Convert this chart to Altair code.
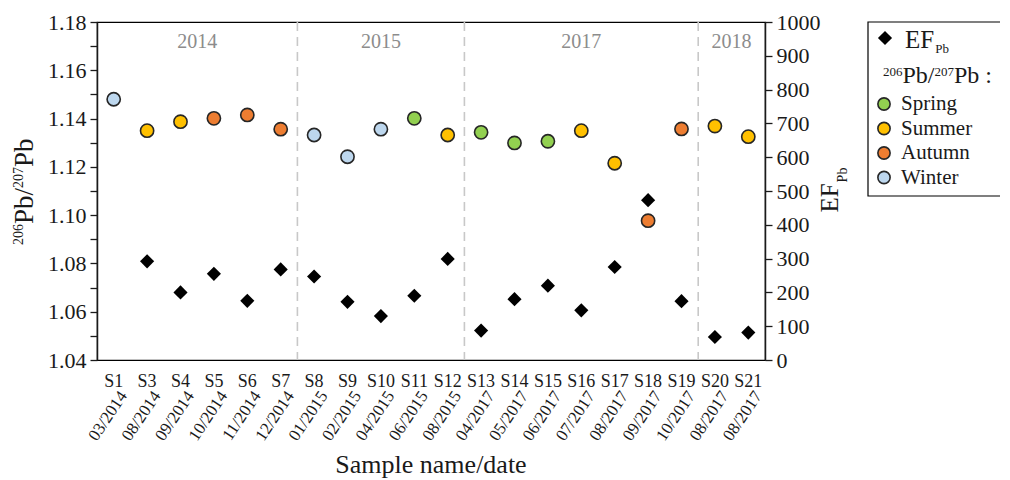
import altair as alt
import pandas as pd

# ---------------- data ----------------
samples = ["S1", "S3", "S4", "S5", "S6", "S7", "S8", "S9", "S10", "S11", "S12",
           "S13", "S14", "S15", "S16", "S17", "S18", "S19", "S20", "S21"]
dates = ["03/2014", "08/2014", "09/2014", "10/2014", "11/2014", "12/2014",
         "01/2015", "02/2015", "04/2015", "06/2015", "08/2015",
         "04/2017", "05/2017", "06/2017", "07/2017", "08/2017", "09/2017", "10/2017",
         "08/2017", "08/2017"]
ratio = [1.148, 1.135, 1.1387, 1.1401, 1.1415, 1.1356, 1.1332, 1.1242, 1.1356, 1.1401, 1.1332,
         1.1343, 1.1299, 1.1306, 1.135, 1.1215, 1.0977, 1.1357, 1.1369, 1.1325]
ef = [None, 292, 200, 255, 175, 268, 247, 172, 130, 190, 299,
      87, 180, 220, 147, 275, 473, 174, 68, 81]
seasons = ["Winter", "Summer", "Summer", "Autumn", "Autumn", "Autumn", "Winter", "Winter", "Winter",
           "Spring", "Summer", "Spring", "Spring", "Spring", "Summer", "Summer", "Autumn", "Autumn",
           "Summer", "Summer"]

season_names = ["Spring", "Summer", "Autumn", "Winter"]
season_colors = ["#92d050", "#ffc000", "#ed7d31", "#bdd7ee"]

years = ["2014", "2015", "2017", "2018"]
year_start = [0, 6, 11, 18]
year_end = [6, 11, 18, 20]

# ---------------- layout ----------------
W, H = 668, 338
FONT = "'Liberation Serif', 'Times New Roman', Times, 'DejaVu Serif', serif"
INK = "#1a1a1a"

df = pd.DataFrame({"sample": samples, "date": dates, "ratio": ratio, "ef": ef, "season": seasons})
df["xpos"] = df.index + 0.5

xscale = alt.Scale(domain=[0, 20], nice=False, zero=False)
cscale = alt.Scale(domain=season_names, range=season_colors)

yvals = [round(1.04 + 0.01 * i, 2) for i in range(15)]

circles = alt.Chart(df).mark_point(
    shape="circle", filled=True, size=175, stroke="#262626", strokeWidth=1.6, opacity=1
).encode(
    x=alt.X("xpos:Q", scale=xscale,
            axis=alt.Axis(values=list(range(21)), labels=False, title=None, tickSize=7,
                          orient="bottom", grid=False)),
    y=alt.Y("ratio:Q", scale=alt.Scale(domain=[1.04, 1.18], nice=False, zero=False),
            axis=alt.Axis(orient="left", values=yvals, title=None, tickSize=7, labelPadding=4,
                          labelExpr="(round(datum.value*100) % 2 == 0) ? format(datum.value, '.2f') : ''")),
    fill=alt.Fill("season:N", scale=cscale, legend=None),
)

diamonds = alt.Chart(df).transform_filter("isValid(datum.ef)").mark_point(
    shape="diamond", filled=True, size=200, color="#000000", opacity=1
).encode(
    x=alt.X("xpos:Q", scale=xscale, axis=None),
    y=alt.Y("ef:Q", scale=alt.Scale(domain=[0, 1000], nice=False, zero=False),
            axis=alt.Axis(orient="right", values=list(range(0, 1001, 100)), title=None,
                          tickSize=7, labelPadding=4, format="d")),
)

bdf = pd.DataFrame({"xb": year_start[1:]})
rules = alt.Chart(bdf).mark_rule(color="#c8c8c8", strokeDash=[9, 6], strokeWidth=1.6).encode(
    x=alt.X("xb:Q", scale=xscale, axis=None),
    y=alt.value(0), y2=alt.value(H),
)

ydf = pd.DataFrame({"year": years, "s": year_start, "e": year_end})
ydf["xc"] = (ydf["s"] + ydf["e"]) / 2
year_text = alt.Chart(ydf).mark_text(font=FONT, fontSize=20, color="#8c8c8c", baseline="middle").encode(
    x=alt.X("xc:Q", scale=xscale, axis=None), y=alt.value(20), text="year:N"
)

s_text = alt.Chart(df).mark_text(font=FONT, fontSize=18, color=INK, baseline="middle").encode(
    x=alt.X("xpos:Q", scale=xscale, axis=None), y=alt.value(H + 22), text="sample:N"
)
d_text = alt.Chart(df).mark_text(font=FONT, fontSize=17, color=INK, angle=304, align="right",
                                 baseline="middle", xOffset=10).encode(
    x=alt.X("xpos:Q", scale=xscale, axis=None), y=alt.value(H + 33), text="date:N"
)


def label(txt, x, y, size, angle=0, align="center", baseline="middle", color=INK):
    kw = dict(font=FONT, fontSize=size, color=color, align=align, baseline=baseline, text=txt)
    if angle:
        kw["angle"] = angle
    return alt.Chart(pd.DataFrame({"a": [0]})).mark_text(**kw).encode(x=alt.value(x), y=alt.value(y))


# Times-metric advance widths (em) for composing super/subscripts
ADV = {"0": .5, "2": .5, "6": .5, "7": .5, "P": .556, "b": .5, "/": .278, " ": .25, ":": .278,
       "E": .611, "F": .556}


def adv(txt, size):
    return sum(ADV.get(c, .5) for c in txt) * size


def ratio_label(x0, base, big, small, raise_, vertical=False, tail="Pb"):
    """Compose 206Pb/207Pb with real superscripts, piece by piece."""
    parts = [("206", small, True), ("Pb/", big, False), ("207", small, True), (tail, big, False)]
    layers, pos = [], x0
    for txt, size, sup in parts:
        if vertical:
            layers.append(label(txt, base - (raise_ if sup else 0), pos, size, angle=270,
                                align="left", baseline="alphabetic"))
            pos -= adv(txt, size)
        else:
            layers.append(label(txt, pos, base - (raise_ if sup else 0), size,
                                align="left", baseline="alphabetic"))
            pos += adv(txt, size)
    return layers


x_title = label("Sample name/date", W / 2, 451, 26, baseline="alphabetic")
yl_title = ratio_label(223, -64, 27, 14, 10, vertical=True)
yr_title = label("EF", 733, 176, 25, angle=270)
yr_sub = label("Pb", 746, 153, 14, angle=270)

# ---------------- legend ----------------
LX0, LY0 = 771, 0
legend_box = alt.Chart(pd.DataFrame({"a": [0]})).mark_rect(
    fill="white", stroke="#000000", strokeWidth=1.2
).encode(x=alt.value(LX0), x2=alt.value(905), y=alt.value(LY0), y2=alt.value(174))

leg_diamond = alt.Chart(pd.DataFrame({"a": [0]})).mark_point(
    shape="diamond", filled=True, size=200, color="#000000", opacity=1
).encode(x=alt.value(LX0 + 17), y=alt.value(16))
leg_ef = label("EF", LX0 + 37, 26, 25, align="left", baseline="alphabetic")
leg_ef_sub = label("Pb", LX0 + 37 + adv("EF", 25) + 1, 31, 13, align="left", baseline="alphabetic")
leg_head = ratio_label(LX0 + 15, 61, 24, 13, 7, tail="Pb :")

ldf = pd.DataFrame({"season": season_names})
ldf["ly"] = [82 + 24.5 * i for i in range(len(season_names))]
leg_pts = alt.Chart(ldf).mark_point(
    shape="circle", filled=True, size=150, stroke="#262626", strokeWidth=1.6, opacity=1
).encode(
    x=alt.value(LX0 + 16),
    y=alt.Y("ly:Q", scale=alt.Scale(domain=[0, H], range=[0, H], nice=False, zero=False), axis=None),
    fill=alt.Fill("season:N", scale=cscale, legend=None),
)
leg_txt = alt.Chart(ldf).mark_text(font=FONT, fontSize=21, color=INK, align="left", baseline="middle").encode(
    x=alt.value(LX0 + 33),
    y=alt.Y("ly:Q", scale=alt.Scale(domain=[0, H], range=[0, H], nice=False, zero=False), axis=None),
    text="season:N",
)

chart = alt.layer(
    rules, circles, diamonds, year_text, s_text, d_text, x_title, *yl_title, yr_title, yr_sub,
    legend_box, leg_diamond, leg_ef, leg_ef_sub, *leg_head, leg_pts, leg_txt,
).resolve_scale(y="independent").properties(
    width=W, height=H,
    padding={"left": 89, "top": 14, "right": 235, "bottom": 118},
    autosize=alt.AutoSizeParams(type="none"),
).configure_view(
    stroke="#000000", strokeWidth=1.2
).configure_axis(
    labelFont=FONT, labelFontSize=22, labelColor=INK, domainColor=INK, tickColor=INK,
    domainWidth=1.5, tickWidth=1.3, grid=False,
)

chart.save("out.html", embed_options={"renderer": "svg", "actions": False})
